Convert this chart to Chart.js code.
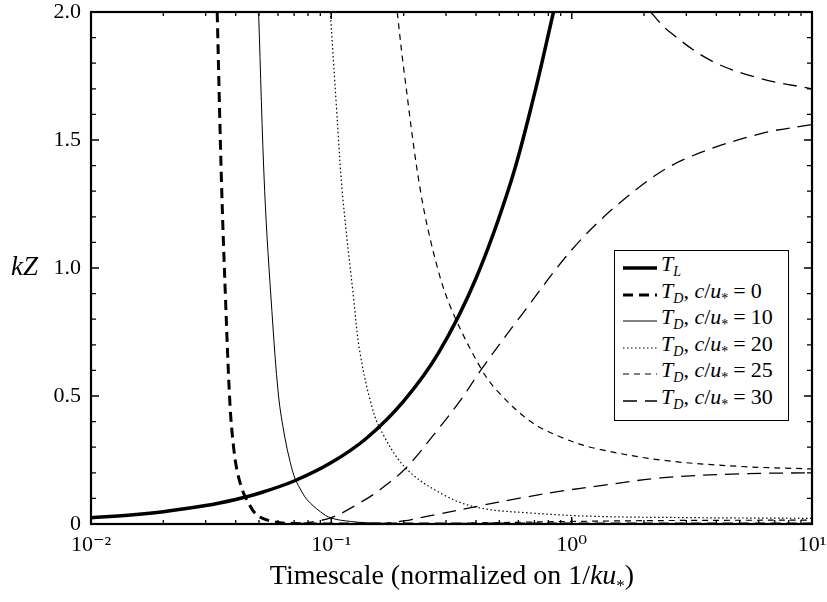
<!DOCTYPE html>
<html>
<head>
<meta charset="utf-8">
<script src="https://cdn.jsdelivr.net/npm/chart.js@4/dist/chart.umd.min.js"></script>
<style>
  body { margin: 0; background: #fff; }
  #wrap { position: relative; width: 827px; height: 602px; font-family: "Liberation Serif", "DejaVu Serif", serif; color: #000; }
  #ylab { position: absolute; left: 11px; top: 251px; font-size: 27px; font-style: italic; }
  #xlab { position: absolute; left: 0; width: 904px; top: 559px; text-align: center; font-size: 28px; }
  #xlab sub { font-size: 17px; }
  #legend { position: absolute; left: 614px; top: 250px; width: 175px; height: 171px; border: 1.5px solid #000; background: #fff; box-sizing: border-box; }
  .row { position: absolute; left: 0; height: 26px; width: 175px; font-size: 22px; line-height: 26px; white-space: nowrap; }
  .row > svg { position: absolute; left: 7px; top: 0; }
  .row > span { position: absolute; left: 46px; top: -4px; }
  .row sub { font-size: 14px; }
  .eq { margin: 0 5px; }
</style>
</head>
<body>
<div id="wrap">
  <canvas id="chart" width="827" height="602"></canvas>
  <div id="ylab">kZ</div>
  <div id="xlab">Timescale (normalized on 1/<i>ku</i><sub>*</sub>)</div>
  <div id="legend"></div>
</div>
<script>
// valores
var xTicks = [0.01, 0.1, 1, 10];
var xTickLabels = ['10\u207B\u00B2', '10\u207B\u00B9', '10\u2070', '10\u00B9'];

var tlX = [0.01, 0.015, 0.02, 0.03, 0.04, 0.05, 0.07, 0.1, 0.14, 0.2, 0.28, 0.4, 0.56, 0.7, 0.84];
var tlY = [0.024, 0.036, 0.048, 0.072, 0.096, 0.12, 0.168, 0.24, 0.335, 0.48, 0.67, 0.96, 1.34, 1.68, 2.0];

var d0X = [0.0335, 0.0349, 0.0363, 0.0379, 0.0392, 0.0405, 0.0424, 0.0442, 0.049, 0.0575, 0.07, 0.1, 10];
var d0Y = [2.0, 1.34, 0.875, 0.46, 0.30, 0.21, 0.14, 0.10, 0.035, 0.009, 0.002, 0, 0];

var d10X = [0.0498, 0.0528, 0.0566, 0.0603, 0.064, 0.0675, 0.0708, 0.0755, 0.0794, 0.09, 0.1, 0.12, 0.14, 0.2, 10];
var d10Y = [2.0, 1.30, 0.83, 0.50, 0.34, 0.24, 0.175, 0.125, 0.094, 0.048, 0.023, 0.01, 0.005, 0.001, 0];

var d20X = [0.099, 0.105, 0.111, 0.124, 0.131, 0.145, 0.16, 0.206, 0.303, 0.418, 0.675, 1.23, 3, 10];
var d20Y = [2.0, 1.63, 1.30, 0.875, 0.68, 0.484, 0.37, 0.214, 0.107, 0.062, 0.043, 0.03, 0.025, 0.022];

var d25X = [0.188, 0.2, 0.235, 0.2757, 0.319, 0.418, 0.49, 0.675, 0.9, 1.235, 2.35, 5, 10];
var d25Y = [2.0, 1.78, 1.30, 1.005, 0.83, 0.61, 0.52, 0.40, 0.34, 0.297, 0.25, 0.225, 0.215];
var d25lowX = [0.25, 1, 3, 10];
var d25lowY = [0, 0.01, 0.014, 0.015];

// c/u* = 30 tiene tres ramas
var d30aX = [0.074, 0.1, 0.13, 0.16, 0.205, 0.27, 0.345, 0.418, 0.6, 1.09, 2, 3.03, 6.13, 10];
var d30aY = [0, 0.025, 0.08, 0.135, 0.22, 0.355, 0.484, 0.60, 0.80, 1.11, 1.33, 1.43, 1.525, 1.56];
var d30bX = [2.13, 2.5, 3.8, 6.13, 10];
var d30bY = [2.0, 1.93, 1.81, 1.74, 1.70];
var d30cX = [0.155, 0.2, 0.266, 0.41, 0.6, 0.9, 1.32, 2.35, 5, 10];
var d30cY = [0, 0.012, 0.035, 0.07, 0.10, 0.128, 0.15, 0.18, 0.196, 0.20];

var styles = {
    tl:  { width: 3.5, dash: [] },
    d0:  { width: 3, dash: [10, 6] },
    d10: { width: 1, dash: [] },
    d20: { width: 1.2, dash: [1.5, 2.5] },
    d25: { width: 1.2, dash: [6, 5] },
    d30: { width: 1.3, dash: [14, 8] }
};

function pts(xs, ys) {
    return xs.map(function (x, i) { return { x: x, y: ys[i] }; });
}

function ds(xs, ys, st) {
    return {
        data: pts(xs, ys),
        borderColor: '#000',
        borderWidth: st.width,
        borderDash: st.dash,
        pointRadius: 0,
        fill: false,
        tension: 0.35
    };
}

// marcas interiores en los cuatro lados
var frameTicks = {
    id: 'frameTicks',
    afterDatasetsDraw: function (chart) {
        var ctx = chart.ctx, a = chart.chartArea;
        var xs = chart.scales.x, ys = chart.scales.y;
        ctx.save();
        ctx.strokeStyle = '#000';
        ctx.setLineDash([]);
        ctx.lineWidth = 1.3;
        for (var e = -2; e < 1; e++) {
            for (var m = 1; m <= 10; m++) {
                var v = m * Math.pow(10, e);
                var px = xs.getPixelForValue(v);
                var len = (m === 1 || m === 10) ? 7 : 4;
                ctx.beginPath();
                ctx.moveTo(px, a.bottom); ctx.lineTo(px, a.bottom - len);
                ctx.moveTo(px, a.top); ctx.lineTo(px, a.top + len);
                ctx.stroke();
            }
        }
        for (var k = 0; k <= 20; k++) {
            var py = ys.getPixelForValue(k / 10);
            var l = (k % 5 === 0) ? 8 : 5;
            ctx.beginPath();
            ctx.moveTo(a.left, py); ctx.lineTo(a.left + l, py);
            ctx.moveTo(a.right, py); ctx.lineTo(a.right - l, py);
            ctx.stroke();
        }
        ctx.lineWidth = 2.2;
        ctx.strokeRect(a.left, a.top, a.right - a.left, a.bottom - a.top);
        ctx.restore();
    }
};

var font = { family: '"Liberation Serif", "DejaVu Serif", serif', size: 22 };

new Chart(document.getElementById('chart'), {
    type: 'line',
    data: {
        datasets: [
            ds(tlX, tlY, styles.tl),
            ds(d0X, d0Y, styles.d0),
            ds(d10X, d10Y, styles.d10),
            ds(d20X, d20Y, styles.d20),
            ds(d25X, d25Y, styles.d25),
            ds(d25lowX, d25lowY, styles.d25),
            ds(d30aX, d30aY, styles.d30),
            ds(d30bX, d30bY, styles.d30),
            ds(d30cX, d30cY, styles.d30)
        ]
    },
    options: {
        responsive: false,
        animation: false,
        layout: { padding: { top: 12, right: 15, left: 0, bottom: 0 } },
        plugins: { legend: { display: false }, tooltip: { enabled: false } },
        scales: {
            x: {
                type: 'logarithmic',
                min: 0.01,
                max: 10,
                grid: { display: false },
                border: { display: false },
                afterBuildTicks: function (s) {
                    s.ticks = xTicks.map(function (v) { return { value: v }; });
                },
                afterFit: function (s) {
                    s.height = 78;
                    s.paddingLeft = 0;
                    s.paddingRight = 0;
                },
                ticks: {
                    color: '#000',
                    font: font,
                    padding: 0,
                    maxRotation: 0,
                    callback: function (v) {
                        var i = xTicks.indexOf(v);
                        return i >= 0 ? xTickLabels[i] : '';
                    }
                }
            },
            y: {
                min: 0,
                max: 2,
                grid: { display: false },
                border: { display: false },
                afterFit: function (s) {
                    s.width = 91;
                    s.paddingTop = 0;
                    s.paddingBottom = 0;
                },
                ticks: {
                    stepSize: 0.5,
                    color: '#000',
                    font: font,
                    padding: 2,
                    callback: function (v) { return v === 0 ? '0' : v.toFixed(1); }
                }
            }
        }
    },
    plugins: [frameTicks]
});

// leyenda en HTML (subíndices)
var legendRows = [
    { st: styles.tl, html: '<i>T</i><sub><i>L</i></sub>' },
    { st: styles.d0, html: '<i>T</i><sub><i>D</i></sub>, <i>c</i>/<i>u</i><sub>*</sub><span class="eq">=</span>0' },
    { st: styles.d10, html: '<i>T</i><sub><i>D</i></sub>, <i>c</i>/<i>u</i><sub>*</sub><span class="eq">=</span>10' },
    { st: styles.d20, html: '<i>T</i><sub><i>D</i></sub>, <i>c</i>/<i>u</i><sub>*</sub><span class="eq">=</span>20' },
    { st: styles.d25, html: '<i>T</i><sub><i>D</i></sub>, <i>c</i>/<i>u</i><sub>*</sub><span class="eq">=</span>25' },
    { st: styles.d30, html: '<i>T</i><sub><i>D</i></sub>, <i>c</i>/<i>u</i><sub>*</sub><span class="eq">=</span>30' }
];
var leg = document.getElementById('legend');
legendRows.forEach(function (r, i) {
    var row = document.createElement('div');
    row.className = 'row';
    row.style.top = (4 + i * 26.5) + 'px';
    row.innerHTML = '<svg width="36" height="26"><line x1="1" y1="13" x2="35" y2="13" stroke="#000" stroke-width="' +
        r.st.width + '" stroke-dasharray="' + (r.st.dash.length ? r.st.dash.join(' ') : 'none') + '"/></svg><span>' + r.html + '</span>';
    leg.appendChild(row);
});
</script>
</body>
</html>
